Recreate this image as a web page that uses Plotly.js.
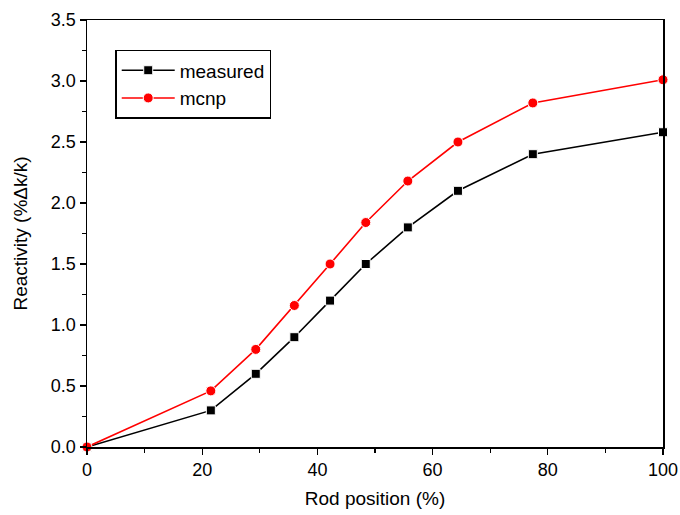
<!DOCTYPE html>
<html><head><meta charset="utf-8">
<script src="https://cdn.plot.ly/plotly-3.0.1.min.js"></script>
<style>body{margin:0;background:#fff}</style>
</head><body>
<div id="chart" style="width:680px;height:515px"></div>
<script>
const rodPosition = [0, 21.5, 29.3, 36, 42.2, 48.4, 55.7, 64.4, 77.4, 100];
const measured = [0, 0.30, 0.60, 0.90, 1.20, 1.50, 1.80, 2.10, 2.40, 2.58];
const mcnp = [0, 0.46, 0.80, 1.16, 1.50, 1.84, 2.18, 2.50, 2.82, 3.01];
const seriesNames = ['measured', 'mcnp'];

const traces = [
  {x: rodPosition, y: measured, name: seriesNames[0], mode: 'lines+markers', type: 'scatter',
   line: {color: 'black', width: 1.6},
   marker: {symbol: 'square', size: 9, color: 'black', line: {color: 'white', width: 1}},
   cliponaxis: false},
  {x: rodPosition, y: mcnp, name: seriesNames[1], mode: 'lines+markers', type: 'scatter',
   line: {color: 'red', width: 1.6},
   marker: {symbol: 'circle', size: 10, color: 'red', line: {color: 'white', width: 1}},
   cliponaxis: false}
];

const axisCommon = {
  showline: true, linecolor: 'black', linewidth: 1.5, mirror: true,
  ticks: 'outside', ticklen: 6, tickwidth: 1.2, tickcolor: 'black',
  showgrid: false, zeroline: false,
  tickfont: {family: 'Liberation Sans, Arial, sans-serif', size: 18, color: 'black'}
};

const layout = {
  width: 680, height: 515,
  margin: {l: 87, r: 17, t: 20, b: 68},
  paper_bgcolor: 'white', plot_bgcolor: 'white',
  font: {family: 'Liberation Sans, Arial, sans-serif', color: 'black'},
  showlegend: true,
  legend: {x: 0.049, y: 0.93, xanchor: 'left', yanchor: 'top',
           bordercolor: 'black', borderwidth: 1.5, bgcolor: 'white',
           font: {size: 19, color: 'black'}, itemwidth: 53, tracegroupgap: 0},
  xaxis: Object.assign({}, axisCommon, {
    range: [0, 100], dtick: 20, tick0: 0,
    minor: {dtick: 10, ticklen: 4, tickcolor: 'black', ticks: 'outside'},
    title: {text: 'Rod position (%)', font: {size: 19, color: 'black'}, standoff: 12}
  }),
  yaxis: Object.assign({}, axisCommon, {
    range: [0, 3.5], dtick: 0.5, tick0: 0, tickformat: '.1f',
    minor: {dtick: 0.25, ticklen: 4, tickcolor: 'black', ticks: 'outside'},
    title: {text: 'Reactivity (%Δk/k)', font: {size: 19, color: 'black'}, standoff: 18}
  })
};

Plotly.newPlot('chart', traces, layout, {displayModeBar: false, staticPlot: true});
</script>
</body></html>
